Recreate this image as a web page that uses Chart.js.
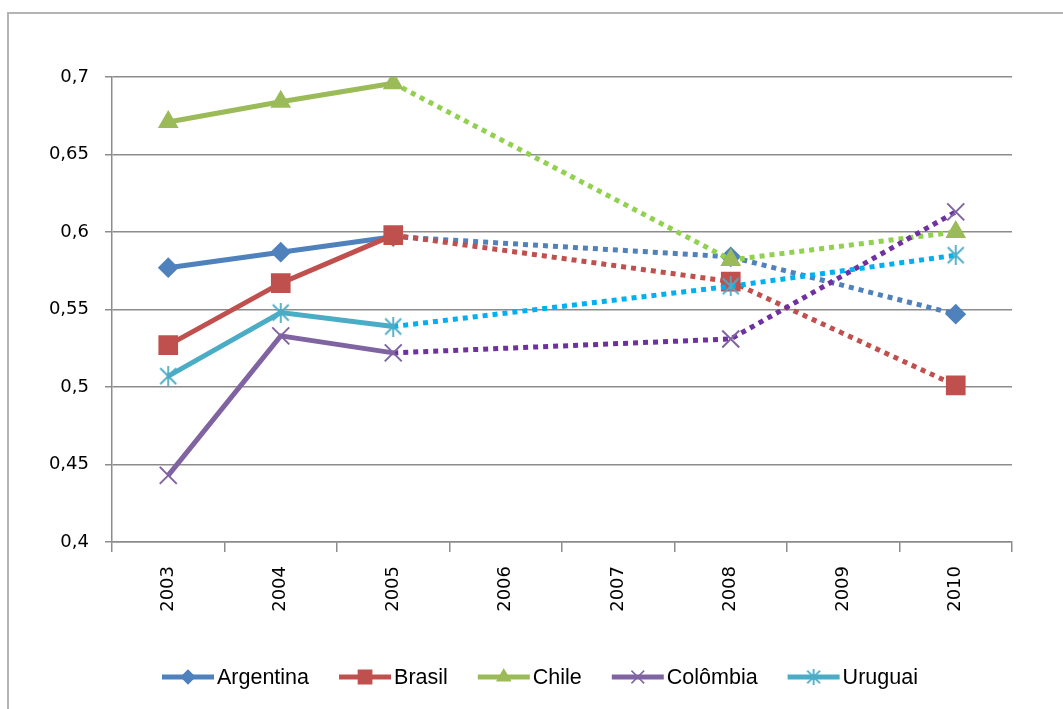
<!DOCTYPE html>
<html>
<head>
<meta charset="utf-8">
<script src="https://cdn.jsdelivr.net/npm/chart.js@4.4.1/dist/chart.umd.min.js"></script>
<style>
  html, body { margin: 0; padding: 0; background: #fff; }
  #wrap { position: relative; width: 1063px; height: 709px; }
  #frame { position: absolute; left: 7px; top: 12px; right: 0; bottom: 0;
           border-left: 2px solid #b4b4b4; border-top: 2px solid #b4b4b4; }
  canvas { position: absolute; left: 0; top: 0; }
</style>
</head>
<body>
<div id="wrap">
  <div id="frame"></div>
  <canvas id="grafico" width="1063" height="709"></canvas>
</div>
<script>
// anos e valores por pais
var anos = ["2003", "2004", "2005", "2006", "2007", "2008", "2009", "2010"];
var argentina = [0.577, 0.587, 0.597, null, null, 0.584, null, 0.547];
var brasil    = [0.527, 0.567, 0.598, null, null, 0.568, null, 0.501];
var chile     = [0.671, 0.684, 0.696, null, null, 0.582, null, 0.600];
var colombia  = [0.443, 0.533, 0.522, null, null, 0.531, null, 0.613];
var uruguai   = [0.507, 0.548, 0.539, null, null, 0.565, null, 0.585];
var eixoY = [0.4, 0.45, 0.5, 0.55, 0.6, 0.65, 0.7];

// marcador estrela do excel (X com traco vertical)
function estrela(cor, tam) {
  var c = document.createElement("canvas");
  c.width = tam; c.height = tam;
  var g = c.getContext("2d");
  var m = tam * 0.1;
  g.strokeStyle = cor;
  g.lineWidth = 1.8;
  g.beginPath();
  g.moveTo(m, m); g.lineTo(tam - m, tam - m);
  g.moveTo(tam - m, m); g.lineTo(m, tam - m);
  g.moveTo(tam / 2, 0); g.lineTo(tam / 2, tam);
  g.stroke();
  return c;
}

function serie(nome, dados, cor, corPont, estilo, raio, ordem) {
  return {
    label: nome,
    data: dados,
    borderColor: cor,
    backgroundColor: cor,
    borderWidth: 5,
    pointStyle: estilo,
    pointRadius: raio,
    pointHoverRadius: raio,
    pointBorderWidth: 2,
    pointBackgroundColor: cor,
    pointBorderColor: cor,
    spanGaps: true,
    tension: 0,
    order: ordem,
    segment: {
      borderColor: function (ctx) { return ctx.p0DataIndex >= 2 ? corPont : undefined; },
      borderDash: function (ctx) { return ctx.p0DataIndex >= 2 ? [5, 5] : undefined; }
    }
  };
}

var series = [
  serie("Argentina", argentina, "#4F81BD", "#4F81BD", "rectRot", 9, 5),
  serie("Brasil", brasil, "#C0504D", "#C0504D", "rect", 12.5, 4),
  serie("Chile", chile, "#9BBB59", "#92D050", "triangle", 10, 3),
  serie("Colômbia", colombia, "#8064A2", "#7030A0", "crossRot", 12, 2),
  serie("Uruguai", uruguai, "#4BACC6", "#00B0F0", estrela("#4BACC6", 20), 10, 1)
];
var estrelaPeq = estrela("#4BACC6", 16);

// legenda no estilo excel: linha + marcador + texto
var legendaExcel = {
  id: "legendaExcel",
  afterDraw: function (chart) {
    var ctx = chart.ctx;
    var y = 677;
    var x = 162;
    ctx.save();
    ctx.font = "21.5px 'Liberation Sans'";
    ctx.textBaseline = "middle";
    series.forEach(function (s) {
      ctx.strokeStyle = s.borderColor;
      ctx.lineWidth = 5;
      ctx.beginPath();
      ctx.moveTo(x, y);
      ctx.lineTo(x + 52, y);
      ctx.stroke();
      ctx.fillStyle = s.borderColor;
      ctx.lineWidth = 1.5;
      var estilo = typeof s.pointStyle === "string" ? s.pointStyle : estrelaPeq;
      Chart.helpers.drawPoint(ctx, {
        pointStyle: estilo, radius: s.pointRadius * 0.75, rotation: 0, borderWidth: 1.5
      }, x + 26, y);
      ctx.fillStyle = "#000";
      ctx.fillText(s.label, x + 55, y + 1);
      x += 55 + ctx.measureText(s.label).width + 30;
    });
    ctx.restore();
  }
};

new Chart(document.getElementById("grafico"), {
  type: "line",
  data: { labels: anos, datasets: series },
  options: {
    responsive: false,
    animation: false,
    layout: { padding: { top: 77, right: 51, bottom: 82, left: 0 } },
    plugins: { legend: { display: false }, tooltip: { enabled: false } },
    scales: {
      x: {
        offset: true,
        grid: { offset: true, drawOnChartArea: false, drawTicks: true, tickLength: 10,
                color: "#8c8c8c", lineWidth: 1.5 },
        border: { color: "#8c8c8c", width: 1.5 },
        ticks: { minRotation: 90, maxRotation: 90, padding: 14, color: "#000",
                 font: { family: "DejaVu Sans", size: 18 } },
        afterFit: function (s) { s.height = 85; }
      },
      y: {
        min: 0.4, max: 0.7,
        afterBuildTicks: function (s) { s.ticks = eixoY.map(function (v) { return { value: v }; }); },
        grid: { color: "#8c8c8c", lineWidth: 1.5, tickLength: 7 },
        border: { color: "#8c8c8c", width: 1.5 },
        ticks: {
          color: "#000", padding: 16,
          font: { family: "DejaVu Sans", size: 18 },
          callback: function (v) { return String(Math.round(v * 100) / 100).replace(".", ","); }
        },
        afterFit: function (s) { s.width = 112; }
      }
    }
  },
  plugins: [legendaExcel]
});
</script>
</body>
</html>
